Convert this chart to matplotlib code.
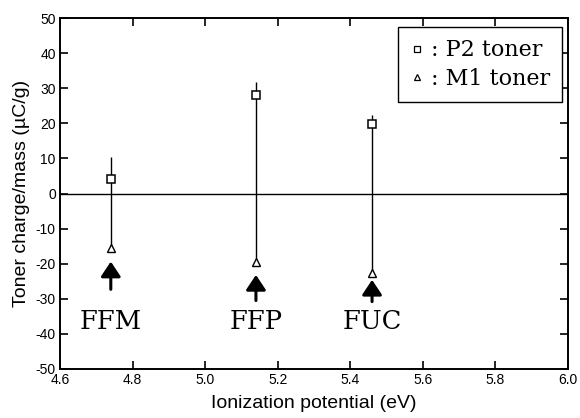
import matplotlib
matplotlib.use('Agg')
import matplotlib.pyplot as plt
from matplotlib.lines import Line2D

# ionization potential of each charge control agent (eV)
materials = ['FFM', 'FFP', 'FUC']
ip = [4.74, 5.14, 5.46]

# toner charge/mass (uC/g)
p2_toner = [4.1, 28.0, 19.8]
p2_upper = [10.4, 31.9, 22.4]
m1_toner = [-15.6, -19.6, -22.7]

# arrows marking each material, tip and tail
arrow_tip = [-19.4, -23.2, -24.6]
arrow_tail = [-27.3, -30.5, -30.8]
label_y = [-33.0, -33.0, -33.0]

plt.rcParams['font.family'] = ['Liberation Sans', 'DejaVu Sans']
plt.rcParams['axes.unicode_minus'] = False

fig = plt.figure(figsize=(5.8, 4.18), dpi=100)
ax = fig.add_axes([60 / 580, 1 - 369 / 418, 508 / 580, 351 / 418])

ax.axhline(0, color='black', lw=1.0, zorder=1)

# spread of each measurement, from P2 high end down to M1
ax.vlines(ip, m1_toner, p2_upper, color='black', lw=1.0, zorder=2)

ax.plot(ip, p2_toner, ls='', marker='s', ms=5.2, mfc='white', mec='black',
        mew=1.1, zorder=3)
ax.plot(ip, m1_toner, ls='', marker='^', ms=5.5, mfc='white', mec='black',
        mew=1.0, zorder=3)

for x, tip, tail, ly, name in zip(ip, arrow_tip, arrow_tail, label_y, materials):
    ax.annotate('', xy=(x, tip), xytext=(x, tail),
                arrowprops=dict(arrowstyle='-|>,head_length=0.75,head_width=0.5',
                                lw=2.2, color='black', mutation_scale=12,
                                shrinkA=0, shrinkB=0))
    ax.text(x, ly, name, ha='center', va='top', fontsize=18.5,
            family='DejaVu Serif')

handles = [
    Line2D([], [], ls='', marker='s', ms=4.5, mfc='white', mec='black', mew=0.9),
    Line2D([], [], ls='', marker='^', ms=4.5, mfc='white', mec='black', mew=0.9),
]
leg = ax.legend(handles, [': P2 toner', ': M1 toner'], loc='upper right',
                bbox_to_anchor=(0.988, 0.974), borderaxespad=0,
                prop={'family': 'DejaVu Serif', 'size': 16},
                handlelength=0.6, handletextpad=0.3, labelspacing=0.3,
                borderpad=0.55, fancybox=False, framealpha=1)
leg.get_frame().set_edgecolor('black')
leg.get_frame().set_linewidth(1.0)

ax.set_xlim(4.6, 6.0)
ax.set_ylim(-50, 50)
ax.set_xticks([4.6, 4.8, 5.0, 5.2, 5.4, 5.6, 5.8, 6.0])
ax.set_yticks(range(-50, 51, 10))
ax.tick_params(direction='in', top=True, right=True, length=6, width=1.2,
               labelsize=10, pad=3)
for s in ax.spines.values():
    s.set_linewidth(1.4)

ax.set_xlabel('Ionization potential (eV)', fontsize=14, labelpad=6)
ax.set_ylabel('Toner charge/mass (\u00b5C/g)', fontsize=14, labelpad=4)

fig.savefig('out.png', dpi=100)
